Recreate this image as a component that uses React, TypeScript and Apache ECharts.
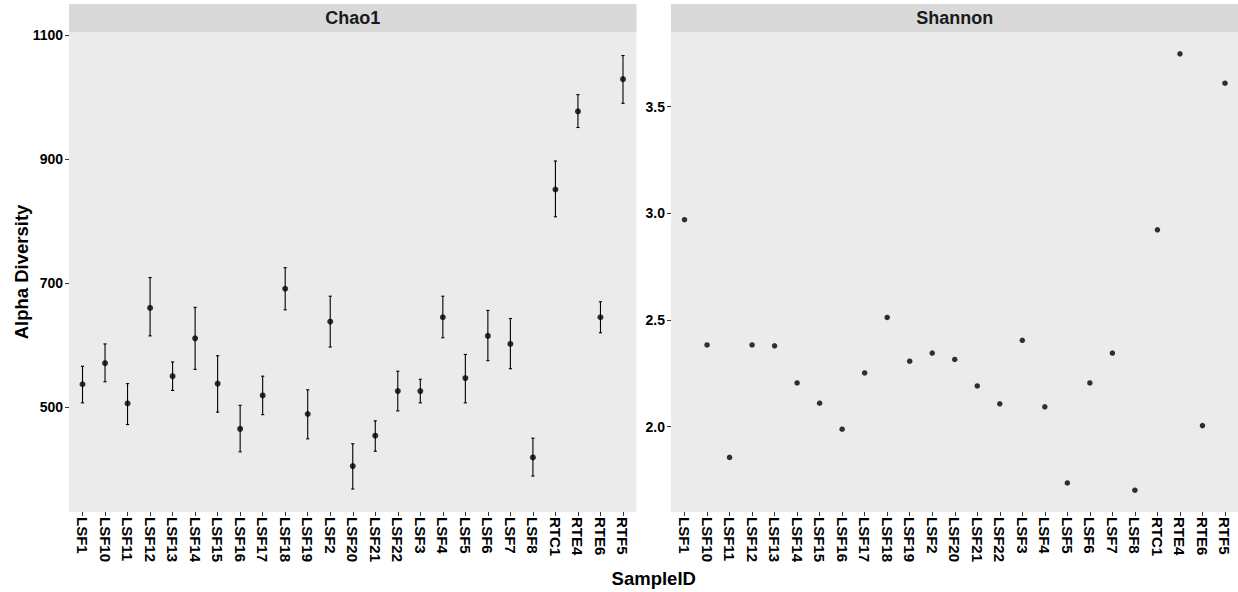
import React, { useEffect, useRef } from "react";
import * as echarts from "echarts";

const samples = [
  "LSF1", "LSF10", "LSF11", "LSF12", "LSF13", "LSF14", "LSF15", "LSF16", "LSF17",
  "LSF18", "LSF19", "LSF2", "LSF20", "LSF21", "LSF22", "LSF3", "LSF4", "LSF5",
  "LSF6", "LSF7", "LSF8", "RTC1", "RTE4", "RTE6", "RTF5",
];

const chao1 = [537, 571, 506, 660, 550, 611, 538, 465, 519, 691, 489, 638, 405, 454, 526, 526, 645, 547, 615, 602, 419, 851, 977, 645, 1029];
const chao1Lower = [507, 541, 472, 615, 527, 561, 492, 428, 488, 657, 449, 597, 368, 429, 494, 507, 612, 507, 575, 562, 389, 807, 951, 620, 990];
const chao1Upper = [566, 602, 538, 709, 573, 661, 583, 503, 550, 725, 528, 679, 441, 478, 558, 545, 679, 585, 656, 643, 450, 897, 1004, 670, 1067];

const shannon = [2.97, 2.383, 1.856, 2.383, 2.379, 2.205, 2.11, 1.988, 2.252, 2.512, 2.307, 2.345, 2.315, 2.191, 2.107, 2.405, 2.093, 1.736, 2.205, 2.345, 1.702, 2.923, 3.748, 2.005, 3.61];

const chao1Ticks = [500, 700, 900, 1100];
const shannonTicks = [2.0, 2.5, 3.0, 3.5];

const FONT = "'Liberation Sans', Arial, sans-serif";

export default function App() {
  const ref = useRef<HTMLDivElement>(null);

  useEffect(() => {
    if (!ref.current) return;
    const chart = echarts.init(ref.current, undefined, { renderer: "svg" });

    const panelTop = 32;
    const panelH = 480;
    const p0L = 69, p0R = 636.5;
    const p1L = 671, p1R = 1238.5;
    const pw = p0R - p0L;
    const step = pw / 25.2;
    const inset = step * 0.1;

    const xAxisBase = (gridIndex: number) => ({
      type: "category" as const,
      gridIndex,
      data: samples,
      boundaryGap: true,
      axisLine: { show: false },
      axisTick: { show: true, alignWithLabel: true, length: 4, lineStyle: { color: "#333333", width: 1 } },
      axisLabel: {
        rotate: -90,
        margin: 5,
        color: "#000000",
        fontWeight: "bold" as const,
        fontSize: 15,
        fontFamily: FONT,
        interval: 0,
      },
      splitLine: { show: false },
    });

    const yAxisBase = (gridIndex: number, min: number, max: number, ticks: number[], fmt: (v: number) => string) => ({
      type: "value" as const,
      gridIndex,
      min,
      max,
      offset: inset,
      axisLine: { show: false },
      splitLine: { show: false },
      axisTick: { show: true, length: 4, lineStyle: { color: "#333333", width: 1 }, customValues: ticks },
      axisLabel: {
        color: "#000000",
        fontWeight: "bold" as const,
        fontSize: 14,
        fontFamily: FONT,
        margin: 6,
        customValues: ticks,
        formatter: (v: number) => fmt(v),
      },
    });

    const errorBarItem = (params: any, api: any) => {
      const x = api.value(0);
      const lo = api.coord([x, api.value(1)]);
      const hi = api.coord([x, api.value(2)]);
      const cap = 1.6;
      const style = { stroke: "#000000", lineWidth: 1.1 };
      return {
        type: "group",
        children: [
          { type: "line", shape: { x1: lo[0], y1: lo[1], x2: hi[0], y2: hi[1] }, style },
          { type: "line", shape: { x1: hi[0] - cap, y1: hi[1], x2: hi[0] + cap, y2: hi[1] }, style },
          { type: "line", shape: { x1: lo[0] - cap, y1: lo[1], x2: lo[0] + cap, y2: lo[1] }, style },
        ],
      };
    };

    const option: any = {
      animation: false,
      backgroundColor: "#FFFFFF",
      graphic: [
        { type: "rect", z: -10, shape: { x: p0L, y: panelTop, width: pw, height: panelH }, style: { fill: "#EBEBEB" } },
        { type: "rect", z: -10, shape: { x: p1L, y: panelTop, width: p1R - p1L, height: panelH }, style: { fill: "#EBEBEB" } },
        { type: "rect", z: -10, shape: { x: p0L, y: 4, width: pw, height: 28 }, style: { fill: "#D9D9D9" } },
        { type: "rect", z: -10, shape: { x: p1L, y: 4, width: p1R - p1L, height: 28 }, style: { fill: "#D9D9D9" } },
        {
          type: "text", x: (p0L + p0R) / 2, y: 18,
          style: { text: "Chao1", fill: "#1A1A1A", font: `bold 18px ${FONT}`, align: "center", verticalAlign: "middle" },
        },
        {
          type: "text", x: (p1L + p1R) / 2, y: 18,
          style: { text: "Shannon", fill: "#1A1A1A", font: `bold 18px ${FONT}`, align: "center", verticalAlign: "middle" },
        },
        {
          type: "text", x: 21, y: panelTop + panelH / 2, rotation: Math.PI / 2,
          style: { text: "Alpha Diversity", fill: "#000000", font: `bold 18.5px ${FONT}`, align: "center", verticalAlign: "middle" },
        },
        {
          type: "text", x: (p0L + p1R) / 2, y: 578,
          style: { text: "SampleID", fill: "#000000", font: `bold 18.5px ${FONT}`, align: "center", verticalAlign: "middle" },
        },
      ],
      grid: [
        { left: p0L + inset, top: panelTop, width: pw - 2 * inset, height: panelH },
        { left: p1L + inset, top: panelTop, width: p1R - p1L - 2 * inset, height: panelH },
      ],
      xAxis: [xAxisBase(0), xAxisBase(1)],
      yAxis: [
        yAxisBase(0, 331, 1105, chao1Ticks, (v) => String(v)),
        yAxisBase(1, 1.6, 3.85, shannonTicks, (v) => v.toFixed(1)),
      ],
      series: [
        {
          type: "custom",
          xAxisIndex: 0,
          yAxisIndex: 0,
          renderItem: errorBarItem,
          data: samples.map((_, i) => [i, chao1Lower[i], chao1Upper[i]]),
          z: 3,
          silent: true,
        },
        {
          type: "scatter",
          xAxisIndex: 0,
          yAxisIndex: 0,
          symbolSize: 6,
          itemStyle: { color: "#000000" },
          data: samples.map((_, i) => [i, chao1[i]]),
          z: 4,
        },
        {
          type: "scatter",
          xAxisIndex: 1,
          yAxisIndex: 1,
          symbolSize: 5.5,
          itemStyle: { color: "#000000" },
          data: samples.map((_, i) => [i, shannon[i]]),
          z: 4,
        },
      ],
    };

    chart.setOption(option);
    return () => chart.dispose();
  }, []);

  return (
    <div
      ref={ref}
      style={{ position: "absolute", left: 0, top: 0, width: 1238, height: 592 }}
    />
  );
}
